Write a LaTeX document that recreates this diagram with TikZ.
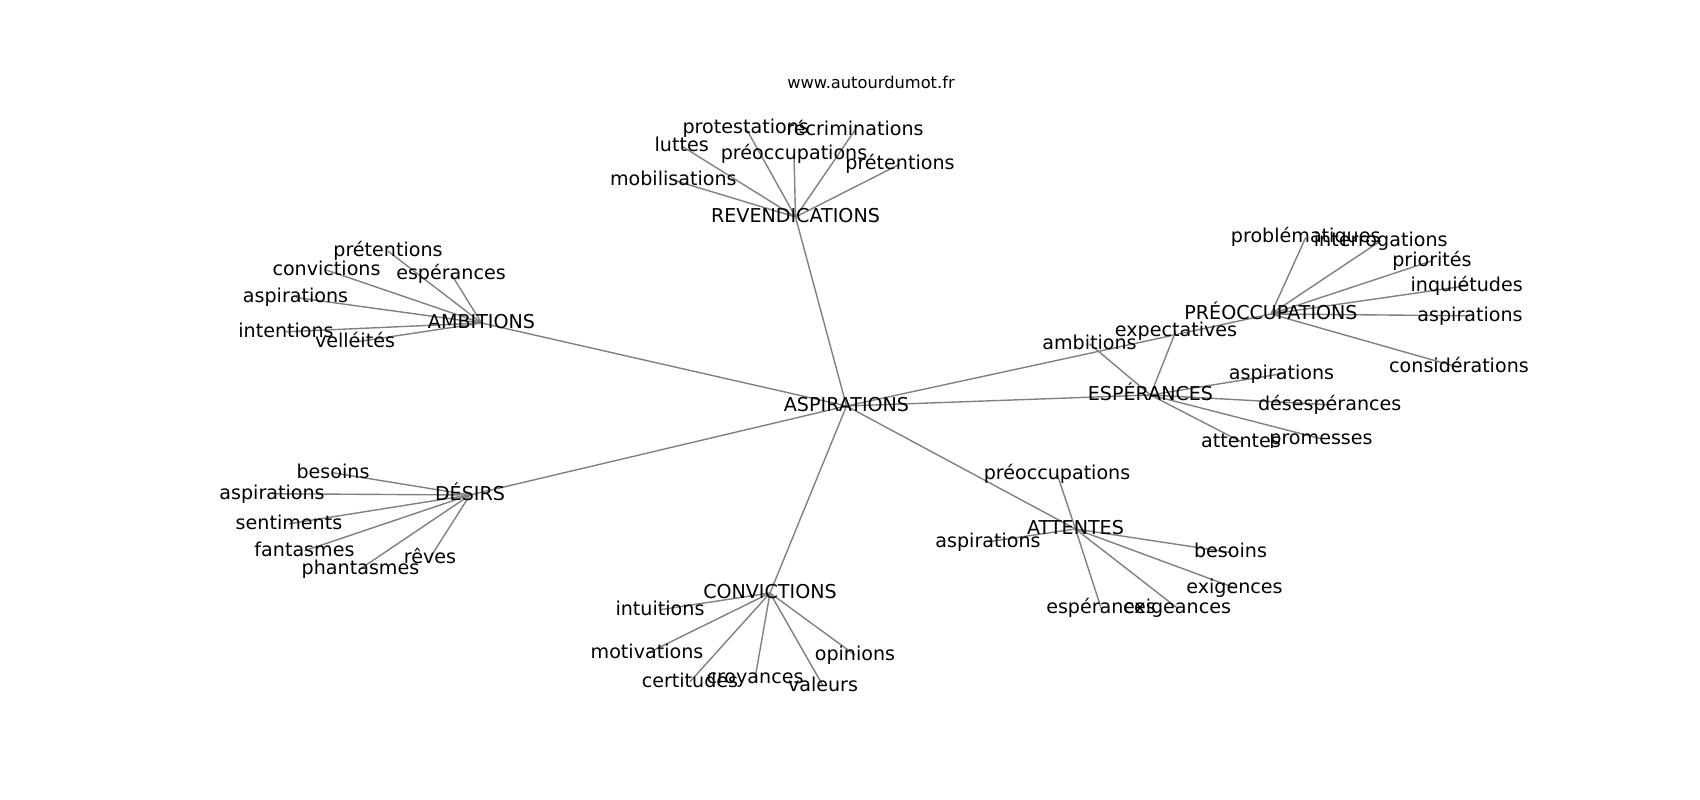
\documentclass[tikz,border=0pt]{standalone}
\usepackage{fontspec}
\setmainfont{DejaVu Sans}
\usetikzlibrary{backgrounds}
\tikzset{
  lbl/.style={font=\fontsize{13.8}{16}\selectfont, inner sep=0pt, text height=10.5pt, text depth=2.9pt, anchor=center},
  leaf/.style={lbl, yshift=-1.5pt},
  ttl/.style={font=\fontsize{11.75}{14}\selectfont, inner sep=0pt, anchor=base},
  link/.style={draw=gray, line width=1bp}
}
\begin{document}
\begin{tikzpicture}[x=0.01in,y=-0.01in]
\useasboundingbox (0,0) rectangle (1700,800);
\node[ttl] (title) at (871,88.3) {www.autourdumot.fr};
% hubs
\node[lbl] (asp) at (846.5,406) {ASPIRATIONS};
\node[lbl] (rev) at (795.5,217) {REVENDICATIONS};
\node[lbl] (amb) at (481.5,323) {AMBITIONS};
\node[lbl] (pre) at (1271,314) {PRÉOCCUPATIONS};
\node[lbl] (esp) at (1150.5,395) {ESPÉRANCES};
\node[lbl] (des) at (470,495) {DÉSIRS};
\node[lbl] (con) at (770,593) {CONVICTIONS};
\node[lbl] (att) at (1075.5,529) {ATTENTES};
% revendications
\node[leaf] (rev1) at (745.7,125.7) {protestations};
\node[leaf] (rev2) at (855,128) {récriminations};
\node[leaf] (rev3) at (681.7,144) {luttes};
\node[leaf] (rev4) at (794,152) {préoccupations};
\node[leaf] (rev5) at (900,162) {prétentions};
\node[leaf] (rev6) at (673.3,178) {mobilisations};
% ambitions
\node[leaf] (amb1) at (388,249) {prétentions};
\node[leaf] (amb2) at (326.5,268) {convictions};
\node[leaf] (amb3) at (451,271.7) {espérances};
\node[leaf] (amb4) at (295.5,295.4) {aspirations};
\node[leaf] (amb5) at (286,329.7) {intentions};
\node[leaf] (amb6) at (355,340) {velléités};
% préoccupations
\node[leaf] (pre1) at (1305.7,235.4) {problématiques};
\node[leaf] (pre2) at (1380.7,238.7) {interrogations};
\node[leaf] (pre3) at (1432,258.7) {priorités};
\node[leaf] (pre4) at (1466.7,283.7) {inquiétudes};
\node[leaf] (pre5) at (1470,313.7) {aspirations};
\node[leaf] (pre6) at (1459,365.4) {considérations};
% espérances
\node[leaf] (esp1) at (1089.5,341.7) {ambitions};
\node[leaf] (esp2) at (1176,328.7) {expectatives};
\node[leaf] (esp3) at (1281.5,371.7) {aspirations};
\node[leaf] (esp4) at (1329.7,402.7) {désespérances};
\node[leaf] (esp5) at (1241,439.7) {attentes};
\node[leaf] (esp6) at (1321,436.7) {promesses};
% attentes
\node[leaf] (att1) at (1057,471.7) {préoccupations};
\node[leaf] (att2) at (988,539.7) {aspirations};
\node[leaf] (att3) at (1230.5,550.4) {besoins};
\node[leaf] (att4) at (1234.5,585.7) {exigences};
\node[leaf] (att5) at (1101,605.7) {espérances};
\node[leaf] (att6) at (1177,605.7) {exigeances};
% désirs
\node[leaf] (des1) at (333,470.7) {besoins};
\node[leaf] (des2) at (272,491.7) {aspirations};
\node[leaf] (des3) at (289,521.7) {sentiments};
\node[leaf] (des4) at (304.5,548.7) {fantasmes};
\node[leaf] (des5) at (360.5,566.7) {phantasmes};
\node[leaf] (des6) at (430,555.7) {rêves};
% convictions
\node[leaf] (con1) at (660,607.7) {intuitions};
\node[leaf] (con2) at (647,651.4) {motivations};
\node[leaf] (con3) at (690,679.7) {certitudes};
\node[leaf] (con4) at (755,676.4) {croyances};
\node[leaf] (con5) at (823,683.7) {valeurs};
\node[leaf] (con6) at (855,653) {opinions};
\begin{scope}[on background layer]
\fill[white] (0,0) rectangle (1700,800);
\foreach \h in {rev,amb,pre,esp,des,con,att}{
  \draw[link] (asp.center) -- (\h.center);
  \foreach \i in {1,...,6}{
    \draw[link] (\h.center) -- (\h\i.center);
  }
}
\end{scope}
\end{tikzpicture}
\end{document}
